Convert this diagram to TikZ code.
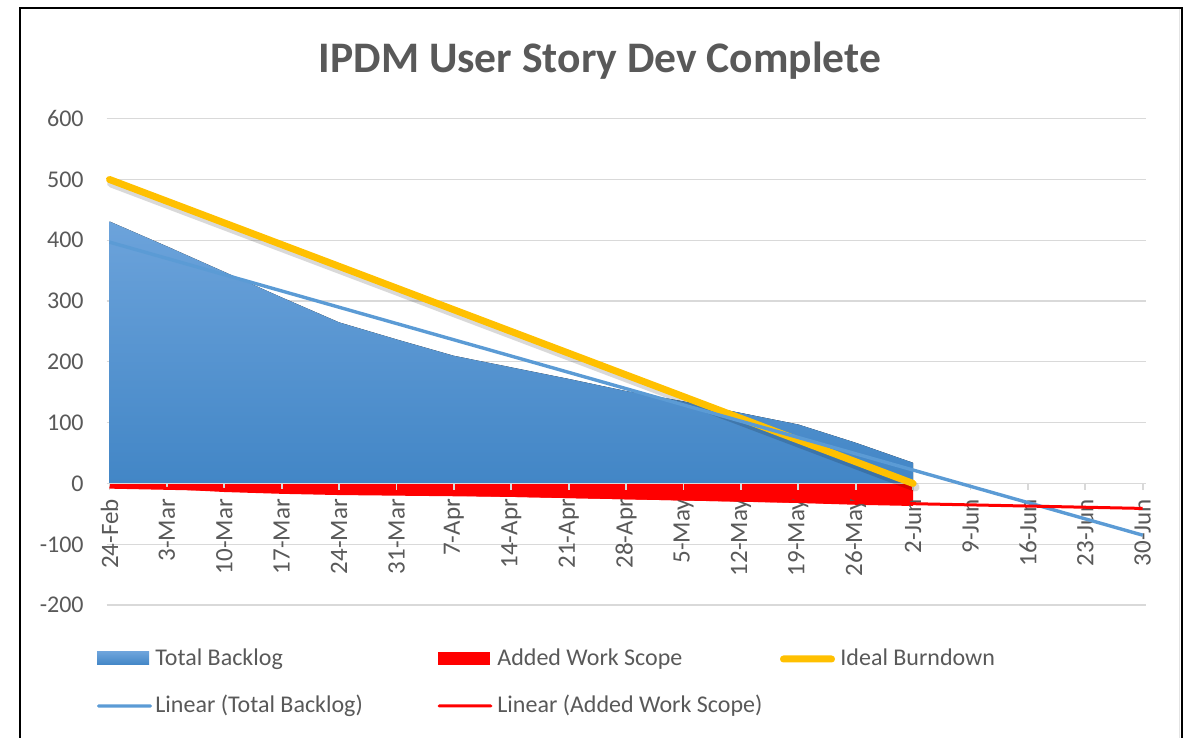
\documentclass[tikz,border=0pt]{standalone}
\usepackage{fontspec}
\setmainfont{Carlito}
\usepackage{xcolor}
\usepackage{tikz}
\definecolor{textgrey}{RGB}{89,89,89}
\definecolor{gridgrey}{RGB}{217,217,217}
\definecolor{backlogtop}{RGB}{108,163,219}
\definecolor{backlogbot}{RGB}{66,134,198}
\definecolor{scopered}{RGB}{255,0,0}
\definecolor{idealgold}{RGB}{255,192,0}
\definecolor{trendblue}{RGB}{91,155,213}

\begin{document}
\begin{tikzpicture}[
    x=0.5pt, y=0.5pt,
    every node/.style={font=\fontsize{12}{14}\selectfont, text=textgrey},
    grid line/.style={gridgrey, line width=0.6pt},
    x label/.style={rotate=90, anchor=east, inner sep=0pt},
    y label/.style={anchor=east, inner sep=0pt},
    key box/.style={rectangle, inner sep=0pt, minimum width=26pt, minimum height=6.5pt},
    key line/.style={rectangle, inner sep=0pt, minimum width=27.5pt, rounded corners=0.8pt},
    key text/.style={anchor=base west, inner sep=0pt},
  ]
  \useasboundingbox (0,0) rectangle (1188,738);

  % ============ FRAME ============
  \draw[gridgrey!70!white, line width=0.8pt] (1179.5,0) -- (1179.5,728.5);
  \draw[black, line width=1pt] (20,0) -- (20,730) -- (1182,730) -- (1182,0);

  % ============ TITLE ============
  \node[anchor=base, font=\fontsize{21.8}{26}\selectfont\bfseries, text=textgrey]
    (title) at (600,665) {IPDM User Story Dev Complete};

  % ============ PLOT (x = week, y = story points) ============
  \begin{scope}[shift={(109.5,254.5)}, x=28.7pt, y=0.304pt]

    % gridlines
    \foreach \v in {-200,-100,100,200,300,400,500,600}
      \draw[grid line] (-0.05,\v) -- (18.05,\v);

    % value axis labels
    \foreach \v in {-200,-100,0,100,200,300,400,500,600}
      \node[y label] (ylab\v) at (-0.444,\v) {\v};

    % Total Backlog area
    \fill[top color=backlogtop, bottom color=backlogbot]
      (0,0) -- plot coordinates {(0,431) (1,390) (2,348) (3,306) (4,265)
        (5,237) (6,210) (7,191) (8,172) (9,152) (10,135) (11,116)
        (12,97) (13,67) (14,34)} -- (14,0) -- cycle;

    % Added Work Scope area
    \fill[scopered]
      (0,0) -- plot coordinates {(0,-4) (1,-9) (2,-14) (3,-17) (4,-19)
        (5,-20) (6,-21) (7,-22) (8,-24) (9,-26) (10,-28) (11,-30)
        (12,-32) (13,-35) (14,-37)} -- (14,0) -- cycle;

    % category axis + ticks
    \draw[grid line, line width=0.9pt] (-0.05,0) -- (18.05,0);
    \foreach \i in {0,...,18}
      \draw[grid line, line width=0.9pt] (\i,0) -- (\i,-10);

    % category labels
    \foreach \d [count=\i from 0] in {24-Feb,3-Mar,10-Mar,17-Mar,24-Mar,31-Mar,
        7-Apr,14-Apr,21-Apr,28-Apr,5-May,12-May,19-May,26-May,2-Jun,9-Jun,
        16-Jun,23-Jun,30-Jun}
      \node[x label, font=\fontsize{12.5}{14}\selectfont] (xlab\i) at (\i,-25) {\d};

    % Ideal Burndown (with soft shadow)
    \draw[black, opacity=0.15, line width=4.5pt, line cap=round,
          xshift=1pt, yshift=-1.8pt] (0,500) -- (14,0);
    \draw[idealgold, line width=3.5pt, line cap=round] (0,500) -- (14,0);

    % trend lines
    \draw[trendblue, line width=1.7pt] (0,397) -- (18,-85);
    \draw[scopered, line width=1.5pt] (0,-6) -- (18,-41);
  \end{scope}

  % ============ LEGEND ============
  \node[key box, top color=backlogtop, bottom color=backlogbot] (keyTB) at (123,79.5) {};
  \node[key text] (lgTB) at (155,72) {Total Backlog};

  \node[key box, fill=scopered] (keyAWS) at (464,79.5) {};
  \node[key text] (lgAWS) at (497,72) {Added Work Scope};

  \node[key line, fill=idealgold, minimum height=3.5pt, rounded corners=1.7pt]
    (keyIB) at (807.5,79) {};
  \node[key text] (lgIB) at (840,72) {Ideal Burndown};

  \node[key line, fill=trendblue, minimum height=1.7pt] (keyLTB) at (124.5,32) {};
  \node[key text] (lgLTB) at (155,25) {Linear (Total Backlog)};

  \node[key line, fill=scopered, minimum height=1.5pt] (keyLAWS) at (465,32) {};
  \node[key text] (lgLAWS) at (497,25) {Linear (Added Work Scope)};

\end{tikzpicture}
\end{document}
